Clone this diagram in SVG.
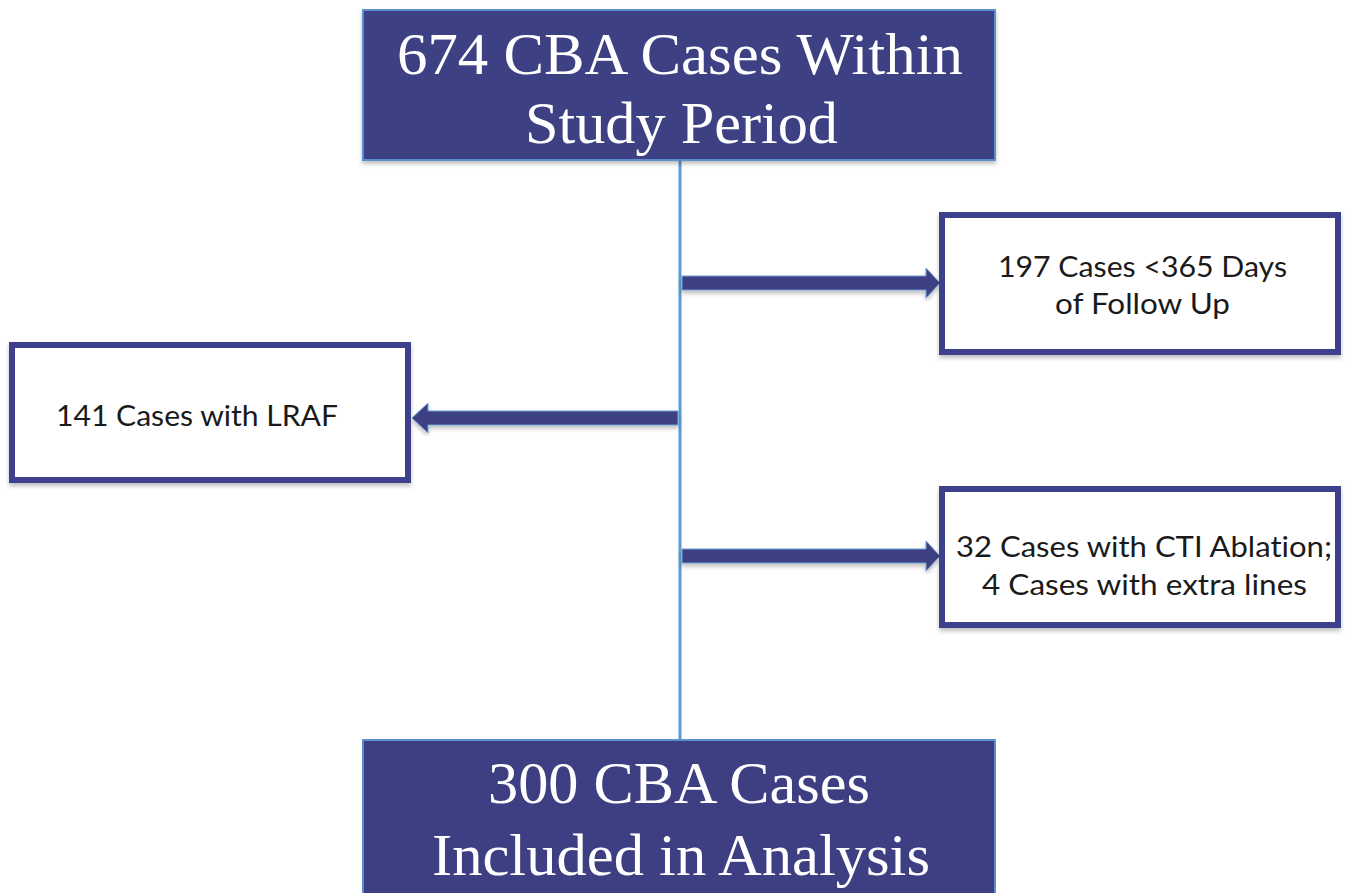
<svg xmlns="http://www.w3.org/2000/svg" width="1349" height="893" viewBox="0 0 1349 893">
<defs>
<filter id="sh" x="-5%" y="-5%" width="110%" height="115%">
<feDropShadow dx="0" dy="3" stdDeviation="2" flood-color="#000000" flood-opacity="0.25"/>
</filter>
<style>
.dark{fill:#3d3f82;stroke:#5b8fd0;stroke-width:2}
.box{fill:#ffffff;stroke:#3d3f8a;stroke-width:6}
.big{font-family:"Liberation Serif","Times New Roman",serif;font-size:60px;fill:#ffffff}
.small{font-family:Lato,"Open Sans",sans-serif;font-size:28px;fill:#1a1a1a;font-variant-ligatures:none}
.stem{stroke:#5b9bd5;stroke-width:3;fill:none}
.arrow{fill:#3d3f82;stroke:#6f9fd8;stroke-width:1}
</style>
</defs>
<g id="connectors">
<line class="stem" x1="680" y1="160" x2="680" y2="742"/>
<polygon class="arrow" filter="url(#sh)" points="682,276 926,276 926,268 940,283 926,298 926,290 682,290"/>
<polygon class="arrow" filter="url(#sh)" points="678,411 428,411 428,403 412,418 428,433 428,425 678,425"/>
<polygon class="arrow" filter="url(#sh)" points="682,549 926,549 926,541 940,556 926,571 926,563 682,563"/>
</g>
<g id="n_top">
<rect class="dark" filter="url(#sh)" x="363" y="10" width="632" height="150"/>
<text class="big" x="397" y="74" textLength="566" lengthAdjust="spacingAndGlyphs">674 CBA Cases Within</text>
<text class="big" x="525" y="143" textLength="313" lengthAdjust="spacingAndGlyphs">Study Period</text>
</g>
<g id="n_follow">
<rect class="box" filter="url(#sh)" x="942" y="215" width="396" height="137"/>
<text class="small" x="998" y="277" textLength="289" lengthAdjust="spacingAndGlyphs">197 Cases &lt;365 Days</text>
<text class="small" x="1055" y="314" textLength="175" lengthAdjust="spacingAndGlyphs">of Follow Up</text>
</g>
<g id="n_lraf">
<rect class="box" filter="url(#sh)" x="12" y="345" width="396" height="135"/>
<text class="small" x="56" y="426" textLength="282" lengthAdjust="spacingAndGlyphs">141 Cases with LRAF</text>
</g>
<g id="n_cti">
<rect class="box" filter="url(#sh)" x="942" y="489" width="396" height="136"/>
<text class="small" x="956" y="557" textLength="376" lengthAdjust="spacingAndGlyphs">32 Cases with CTI Ablation;</text>
<text class="small" x="982" y="595" textLength="325" lengthAdjust="spacingAndGlyphs">4 Cases with extra lines</text>
</g>
<g id="n_bottom">
<rect class="dark" x="363" y="740" width="632" height="160"/>
<text class="big" x="488" y="803" textLength="382" lengthAdjust="spacingAndGlyphs">300 CBA Cases</text>
<text class="big" x="432" y="875" textLength="498" lengthAdjust="spacingAndGlyphs">Included in Analysis</text>
</g>
</svg>
